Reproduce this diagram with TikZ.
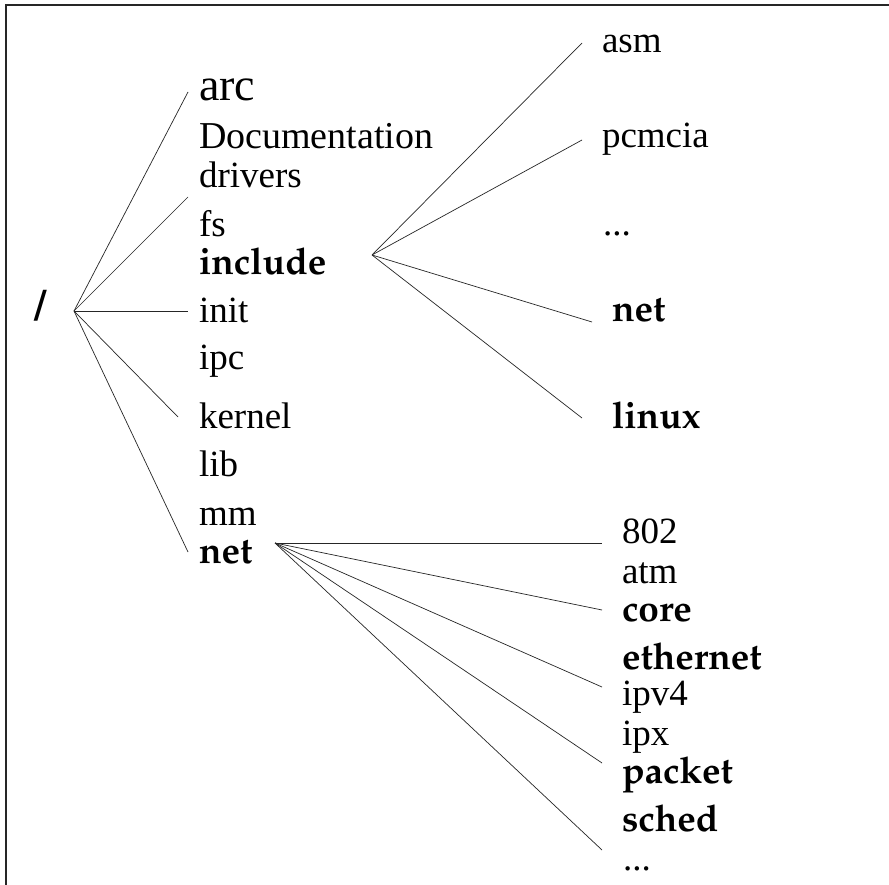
\documentclass[tikz,border=0pt]{standalone}
\usepackage[T1,TU]{fontenc}
\usepackage{fontspec}
\setmainfont{Liberation Serif}
% Bold Palatino (URW Palladio) for highlighted directories
\newcommand\dirbold{\fontencoding{T1}\fontfamily{ppl}\fontseries{b}\fontshape{n}\fontsize{37}{44}\selectfont}
\newcommand\dirplain{\fontsize{37}{44}\selectfont}
\tikzset{
  lab/.style={anchor=base west, inner sep=0pt, outer sep=0pt, font=\dirplain},
  hot/.style={lab, font=\dirbold},
  branch/.style={line width=0.7pt, black!85},
  frameline/.style={line width=1.2pt, black!85}
}
\begin{document}
\begin{tikzpicture}[x=1pt,y=-1pt]
\useasboundingbox (0,0) rectangle (889,885);
\fill[white] (0,0) rectangle (889,885);

% page frame (top and left edges)
\coordinate (fTR) at (889,5);
\coordinate (fTL) at (6,5);
\coordinate (fBL) at (6,885);
\draw[frameline] (fTR) -- (fTL) -- (fBL);

% root
\node[anchor=center, inner sep=0pt, font=\fontencoding{T1}\fontfamily{ppl}\fontseries{b}\fontsize{42}{48}\selectfont] (root) at (41,306) {/};

% first level
\node[lab, font=\fontsize{46}{50}\selectfont] (arc) at (199,101) {arc};
\node[lab, font=\fontsize{38}{44}\selectfont] (doc) at (199,149) {Documentation};
\node[lab] (drivers) at (199,188) {drivers};
\node[lab] (fs) at (199,237) {fs};
\node[hot] (include) at (199,275) {include};
\node[lab] (init) at (199,323) {init};
\node[lab] (ipc) at (199,370) {ipc};
\node[lab] (kernel) at (199,428) {kernel};
\node[lab] (lib) at (199,476) {lib};
\node[lab] (mm) at (199,525) {mm};
\node[hot] (net) at (199,563) {net};

% include/
\node[lab] (asm) at (602,53) {asm};
\node[lab] (pcmcia) at (602,148) {pcmcia};
\node[lab] (incdots) at (603,236) {...};
\node[hot] (incnet) at (612,322) {net};
\node[hot] (linux) at (612,428) {linux};

% net/
\node[lab] (n802) at (622,543) {802};
\node[lab] (atm) at (622,583) {atm};
\node[hot] (core) at (622,621) {core};
\node[hot] (ethernet) at (622,669) {ethernet};
\node[lab] (ipv4) at (622,705) {ipv4};
\node[lab] (ipx) at (622,745) {ipx};
\node[hot] (packet) at (622,783) {packet};
\node[hot] (sched) at (622,831) {sched};
\node[lab] (netdots) at (623,870) {...};

% fan points
\coordinate (rootfan) at (74,311);
\coordinate (incfan) at (372,255);
\coordinate (netfan) at (275,543);

% branch ends
\coordinate (eArc) at (188,92);
\coordinate (eFs) at (188,197);
\coordinate (eInit) at (188,311);
\coordinate (eKernel) at (178,417);
\coordinate (eNet) at (188,552);

\coordinate (eAsm) at (582,43);
\coordinate (ePcmcia) at (582,140);
\coordinate (eIncNet) at (592,322);
\coordinate (eLinux) at (582,418);

\coordinate (e802) at (602,543);
\coordinate (eCore) at (602,610);
\coordinate (eIpv4) at (602,687);
\coordinate (ePacket) at (602,763);
\coordinate (eDots) at (602,850);

\foreach \e in {eArc,eFs,eInit,eKernel,eNet}
  \draw[branch] (rootfan) -- (\e);
\foreach \e in {eAsm,ePcmcia,eIncNet,eLinux}
  \draw[branch] (incfan) -- (\e);
\foreach \e in {e802,eCore,eIpv4,ePacket,eDots}
  \draw[branch] (netfan) -- (\e);
\end{tikzpicture}
\end{document}
